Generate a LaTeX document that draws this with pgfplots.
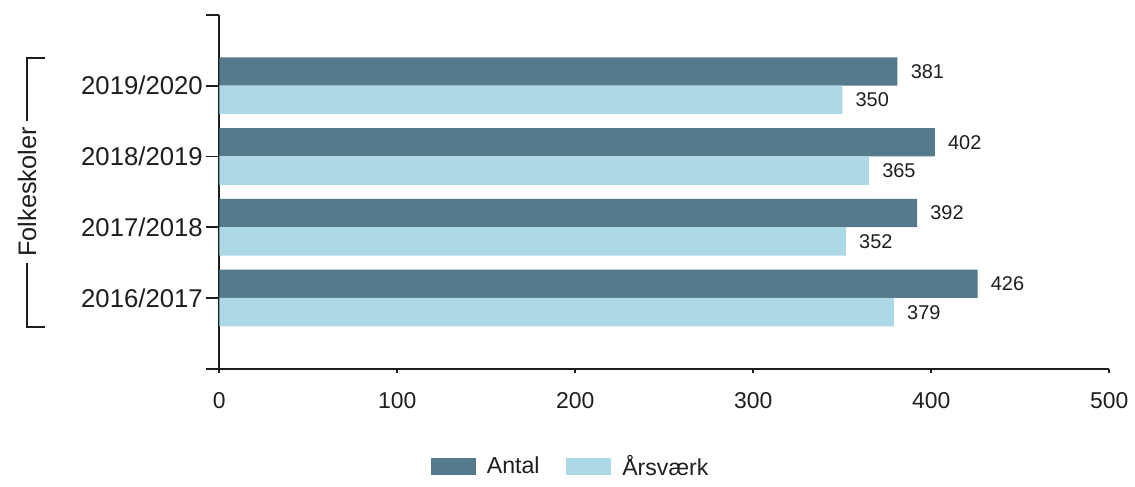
\documentclass[border=0pt]{standalone}
\usepackage{fontspec}
\setmainfont{Liberation Sans}
\usepackage{pgfplots}
\pgfplotsset{compat=1.18}
\definecolor{antal}{HTML}{557A8C}
\definecolor{aars}{HTML}{ADD8E6}
\definecolor{axc}{HTML}{1E1E1E}

\begin{document}
\begin{tikzpicture}
\begin{axis}[
  scale only axis, width=446.5pt, height=177.5pt,
  xbar, bar width=0.4,
  xmin=0, xmax=500, ymin=-1, ymax=4,
  clip=false,
  axis x line=bottom, axis y line=left,
  axis line style={-, axc, line width=0.9pt},
  xtick={0,100,...,500},
  ytick={-1,0,1,2,3,4},
  yticklabels={,2016/2017,2017/2018,2018/2019,2019/2020,},
  tick align=outside,
  xtick style={axc, line width=0.9pt, /pgfplots/major tick length=2pt},
  ytick style={axc, line width=0.9pt, /pgfplots/major tick length=6.5pt},
  /pgf/number format/assume math mode=true,
  tick label style={color=axc},
  xticklabel style={font=\fontsize{11.5}{14}\selectfont, yshift=-4pt},
  yticklabel style={font=\fontsize{12.9}{15}\selectfont, xshift=-0.5pt},
  nodes near coords,
  every node near coord/.append style={font=\fontsize{10}{12}\selectfont, color=axc,
    anchor=west, inner sep=0pt, xshift=6.5pt},
  legend style={at={(0.396,-0.2775)}, anchor=center, draw=none, fill=none,
    legend columns=2, font=\fontsize{11.6}{13}\selectfont, text=axc,
    /tikz/every odd column/.append style={column sep=3.5pt},
    /tikz/every even column/.append style={column sep=11.5pt}},
  legend image code/.code={\fill[#1,draw=none] (0pt,-4.25pt) rectangle (22.5pt,4.25pt);},
]
\addplot[fill=antal, draw=none, bar shift=0.2] coordinates {(426,0) (392,1) (402,2) (381,3)};
\addplot[fill=aars, draw=none, bar shift=-0.2] coordinates {(379,0) (352,1) (365,2) (350,3)};
\legend{Antal,Årsværk}
% the lower end tick of the category axis
\draw[axc, line width=0.9pt] (rel axis cs:0.01,0) -- (rel axis cs:-0.0146,0);
% group bracket
\draw[axc, line width=0.9pt] (rel axis cs:-0.196,0.8785) -- (rel axis cs:-0.2161,0.8785)
  -- (rel axis cs:-0.2161,0.1186) -- (rel axis cs:-0.196,0.1186);
\node[rotate=90, fill=white, font=\fontsize{12.7}{14}\selectfont, text=axc,
  inner xsep=3pt, inner ysep=1pt] at (rel axis cs:-0.2161,0.5) {Folkeskoler};
\path (rel axis cs:-0.2464,-0.3014) rectangle (rel axis cs:1.0246,1.0423);
\end{axis}
\end{tikzpicture}
\end{document}
